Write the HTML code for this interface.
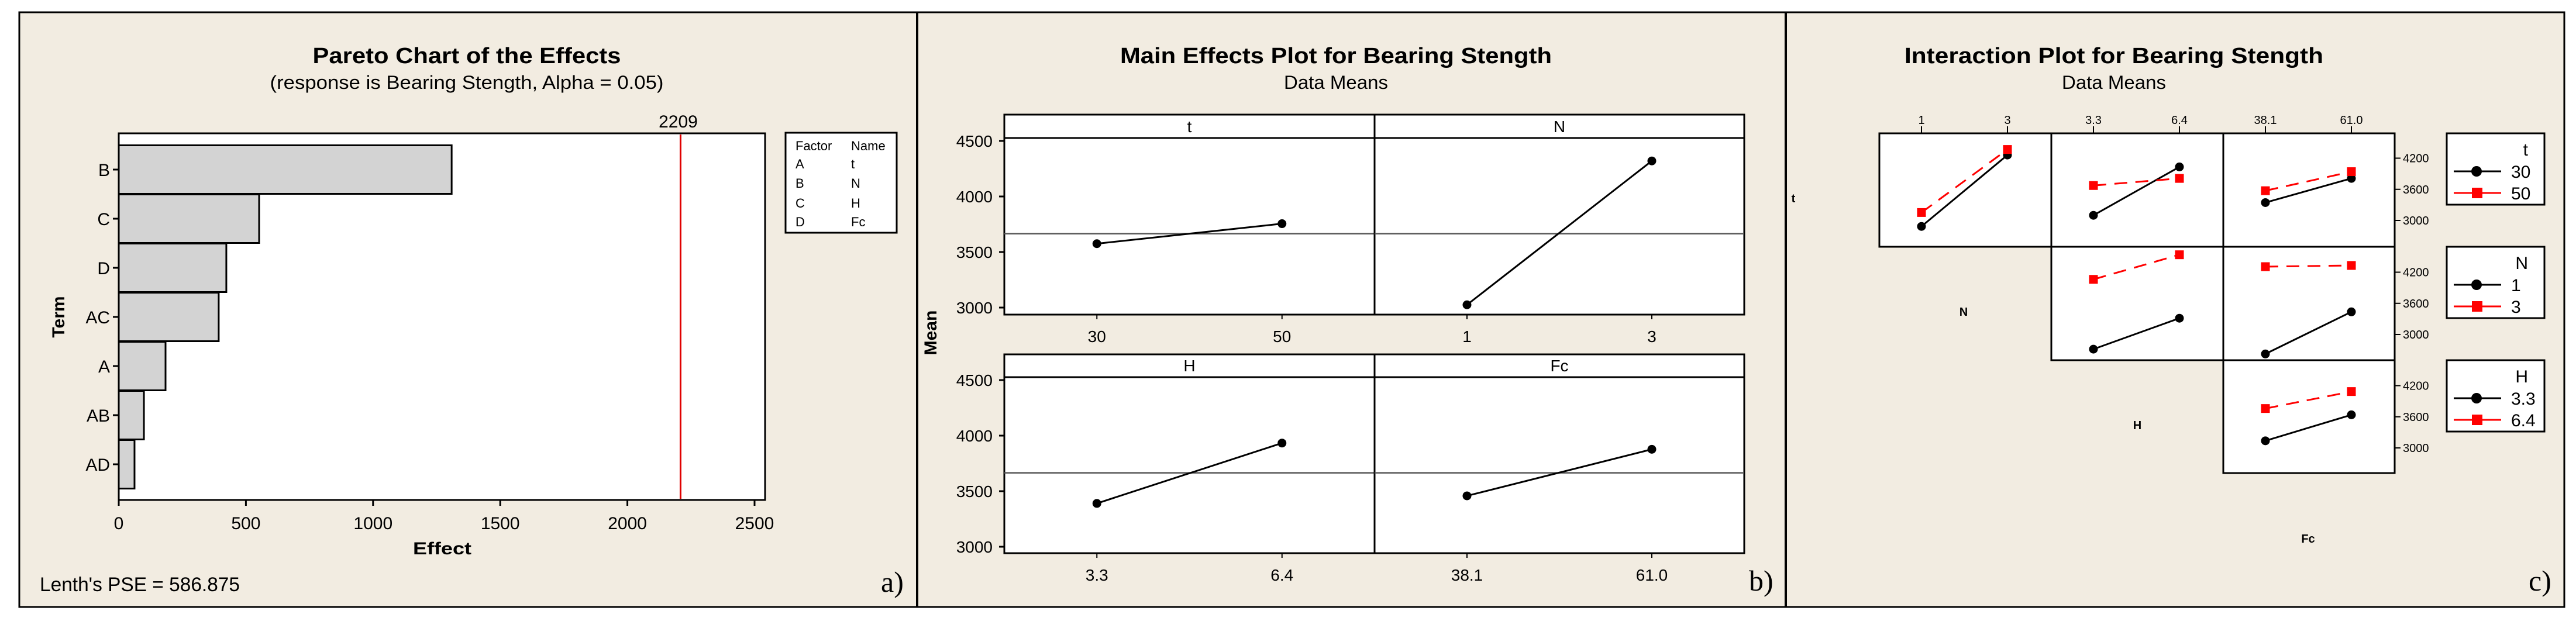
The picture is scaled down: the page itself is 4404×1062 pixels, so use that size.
<!DOCTYPE html>
<html><head><meta charset="utf-8"><style>
html,body{margin:0;padding:0;background:#fff;}
svg{display:block;}
text{font-family:"Liberation Sans Narrow","Liberation Sans",sans-serif;fill:#000;}
.b{font-weight:bold;}
.serif{font-family:"Liberation Serif",serif;}
</style></head><body>
<svg id="root" width="4404" height="1062" viewBox="0 0 4404 1062" xmlns="http://www.w3.org/2000/svg">
<rect x="0" y="0" width="4404" height="1062" fill="#fff"/>
<rect x="33" y="21" width="4351" height="1017" fill="#F2ECE1" stroke="#000" stroke-width="3"/>
<line x1="1568" y1="21" x2="1568" y2="1038" stroke="#000" stroke-width="4"/>
<line x1="3053" y1="21" x2="3053" y2="1038" stroke="#000" stroke-width="4"/>

<!-- Panel A -->
<g id="pa">
<text class="b" x="798" y="108" font-size="38" text-anchor="middle" textLength="527" lengthAdjust="spacingAndGlyphs">Pareto Chart of the Effects</text>
<text x="798" y="152" font-size="32" text-anchor="middle" textLength="673" lengthAdjust="spacingAndGlyphs">(response is Bearing Stength, Alpha = 0.05)</text>
<rect x="203" y="228" width="1105" height="627" fill="#fff" stroke="#000" stroke-width="3"/>
<g id="pa-bars"></g>
<g id="pa-ax"></g>
<text class="b" x="756" y="948" font-size="30" text-anchor="middle" textLength="100" lengthAdjust="spacingAndGlyphs">Effect</text>
<text class="b" x="0" y="0" font-size="30" text-anchor="middle" transform="translate(110,542) rotate(-90)">Term</text>
<g>
<rect x="1343" y="227" width="190" height="171" fill="#fff" stroke="#000" stroke-width="3"/>
<text x="1360" y="257" font-size="22">Factor</text><text x="1455" y="257" font-size="22">Name</text>
<text x="1360" y="288" font-size="22">A</text><text x="1455" y="288" font-size="22">t</text>
<text x="1360" y="321" font-size="22">B</text><text x="1455" y="321" font-size="22">N</text>
<text x="1360" y="355" font-size="22">C</text><text x="1455" y="355" font-size="22">H</text>
<text x="1360" y="387" font-size="22">D</text><text x="1455" y="387" font-size="22">Fc</text>
</g>
<text x="68" y="1011" font-size="34" textLength="342" lengthAdjust="spacingAndGlyphs">Lenth's PSE = 586.875</text>
<text class="serif" x="1506" y="1012" font-size="50">a)</text>
</g>

<!-- Panel B -->
<g id="pb">
<text class="b" x="2284" y="108" font-size="38" text-anchor="middle" textLength="738" lengthAdjust="spacingAndGlyphs">Main Effects Plot for Bearing Stength</text>
<text x="2284" y="152" font-size="32" text-anchor="middle" textLength="178" lengthAdjust="spacingAndGlyphs">Data Means</text>
<g id="pb-panels"></g>
<text class="b" x="0" y="0" font-size="30" text-anchor="middle" transform="translate(1601,569) rotate(-90)">Mean</text>
<text class="serif" x="2990" y="1010" font-size="50">b)</text>
</g>

<!-- Panel C -->
<g id="pc">
<text class="b" x="3614" y="108" font-size="38" text-anchor="middle" textLength="716" lengthAdjust="spacingAndGlyphs">Interaction Plot for Bearing Stength</text>
<text x="3614" y="152" font-size="32" text-anchor="middle" textLength="178" lengthAdjust="spacingAndGlyphs">Data Means</text>
<g id="pc-cells"></g>
<text class="b" x="3066" y="346" font-size="20" text-anchor="middle">t</text>
<text class="b" x="3357" y="540" font-size="20" text-anchor="middle">N</text>
<text class="b" x="3654" y="734" font-size="20" text-anchor="middle">H</text>
<text class="b" x="3946" y="928" font-size="20" text-anchor="middle">Fc</text>
<g id="pc-leg"></g>
<text class="serif" x="4323" y="1010" font-size="50">c)</text>
</g>
</svg>
<script>
// ---------- Pareto data ----------
const paretoTerms = ["B","C","D","AC","A","AB","AD"];
const paretoEffects = [1309, 552, 423, 393, 184, 99, 62];
const paretoTicks = [0, 500, 1000, 1500, 2000, 2500];
const paretoCritical = [2209];

// ---------- Main effects data ----------
const meFactors = ["t","N","H","Fc"];
const meLevelLabels = [["30","50"],["1","3"],["3.3","6.4"],["38.1","61.0"]];
const meMeans = [[3575,3755],[3025,4320],[3390,3933],[3458,3877]];
const meGrandMean = [3665];
const meTicks = [3000, 3500, 4000, 4500];

// ---------- Interaction data ----------
const ixColLabels = [["1","3"],["3.3","6.4"],["38.1","61.0"]];
const ixRowLevels = [["30","50"],["1","3"],["3.3","6.4"]];
const ixRowFactors = ["t","N","H"];
// cells: [row][col] -> [blackSeries, redSeries], null if empty
const ixT_N = [[2885,4261],[3153,4368]];
const ixT_H = [[3099,4032],[3673,3810]];
const ixT_Fc = [[3344,3810],[3573,3940]];
const ixN_H = [[2717,3313],[4062,4536]];
const ixN_Fc = [[2625,3436],[4307,4330]];
const ixH_Fc = [[3137,3638],[3759,4086]];
const ixTicks = [3000, 3600, 4200];

const NS = "http://www.w3.org/2000/svg";
function mk(tag, attrs, parent, txt){
  const e = document.createElementNS(NS, tag);
  for (const k in attrs) e.setAttribute(k, attrs[k]);
  if (txt !== undefined) e.textContent = txt;
  parent.appendChild(e);
  return e;
}

// ===== Pareto =====
(function(){
  const gB = document.getElementById("pa-bars"), gA = document.getElementById("pa-ax");
  const x = v => 203 + v * (1087 / 2500);
  const yc = i => 290 + i * 84;
  paretoEffects.forEach((v, i) => {
    const r = mk("rect", {x:203, y:yc(i)-41.5, width:x(v)-203, height:83, fill:"#D3D3D3", stroke:"#000", "stroke-width":3}, gB);
    
    
    mk("line", {x1:193, x2:203, y1:yc(i), y2:yc(i), stroke:"#000", "stroke-width":3}, gA);
    const t = mk("text", {x:188, y:yc(i)+11, "font-size":30, "text-anchor":"end"}, gA, paretoTerms[i]);
    
    
  });
  paretoTicks.forEach(v => {
    mk("line", {x1:x(v), x2:x(v), y1:855, y2:865, stroke:"#000", "stroke-width":3}, gA);
    const t = mk("text", {x:x(v), y:905, "font-size":30, "text-anchor":"middle"}, gA, String(v));
    
    
  });
  const c = paretoCritical[0];
  const l = mk("line", {x1:x(c), x2:x(c), y1:230, y2:853, stroke:"#E00000", "stroke-width":3}, gB);
  
  
  const t = mk("text", {x:x(c)-4, y:218, "font-size":30, "text-anchor":"middle"}, gA, String(c));
  
  
})();

// ===== Main effects =====
(function(){
  const g = document.getElementById("pb-panels");
  const cols = [[1717,2350],[2350,2982]];
  const rows = [{top:196, strip:236, bot:538, y4500:241, y3000:526, lab:585},
                {top:606, strip:645, bot:946, y4500:650, y3000:935, lab:993}];
  meFactors.forEach((f, k) => {
    const r = rows[Math.floor(k/2)], c = cols[k%2];
    const y = v => r.y3000 + (v - 3000) * (r.y4500 - r.y3000) / 1500;
    const w = c[1] - c[0];
    const xs = [c[0] + w*0.25, c[0] + w*0.75];
    const pg = mk("g", {}, g);
    
    
    mk("rect", {x:c[0], y:r.top, width:w, height:r.bot-r.top, fill:"#fff", stroke:"#000", "stroke-width":3}, pg);
    mk("line", {x1:c[0], x2:c[1], y1:r.strip, y2:r.strip, stroke:"#000", "stroke-width":3}, pg);
    mk("text", {x:(c[0]+c[1])/2, y:r.strip-10, "font-size":28, "text-anchor":"middle"}, pg, f);
    mk("line", {x1:c[0], x2:c[1], y1:y(meGrandMean[0]), y2:y(meGrandMean[0]), stroke:"#555", "stroke-width":2.5}, pg);
    const ln = mk("line", {x1:xs[0], y1:y(meMeans[k][0]), x2:xs[1], y2:y(meMeans[k][1]), stroke:"#000", "stroke-width":3}, pg);
    
    
    meMeans[k].forEach((v, j) => {
      const p = mk("circle", {cx:xs[j], cy:y(v), r:7.5, fill:"#000"}, pg);
      
      
      mk("line", {x1:xs[j], x2:xs[j], y1:r.bot, y2:r.bot+8, stroke:"#000", "stroke-width":2}, pg);
      const t = mk("text", {x:xs[j], y:r.lab, "font-size":28, "text-anchor":"middle"}, pg, meLevelLabels[k][j]);
      
      
    });
    if (k % 2 === 0) {
      meTicks.forEach(v => {
        mk("line", {x1:c[0]-9, x2:c[0], y1:y(v), y2:y(v), stroke:"#000", "stroke-width":3}, pg);
        const t = mk("text", {x:c[0]-20, y:y(v)+10, "font-size":28, "text-anchor":"end"}, pg, String(v));
        
        
      });
    }
  });
})();

// ===== Interaction =====
(function(){
  const g = document.getElementById("pc-cells");
  const colX = [3213, 3507, 3801, 4094];
  const rowY = [228, 422, 616, 809];
  const cells = [[ixT_N, ixT_H, ixT_Fc],[null, ixN_H, ixN_Fc],[null, null, ixH_Fc]];
  const y3000 = [377, 572, 766];
  const pxPerUnit = 106.5 / 1200;
  // top tick labels
  ixColLabels.forEach((labs, c) => {
    labs.forEach((lab, j) => {
      const xx = colX[c] + 72 + j * 147;
      mk("line", {x1:xx, x2:xx, y1:rowY[0]-12, y2:rowY[0], stroke:"#000", "stroke-width":2}, g);
      const t = mk("text", {x:xx, y:rowY[0]-16, "font-size":20, "text-anchor":"middle"}, g, lab);
      
      
    });
  });
  cells.forEach((row, r) => {
    row.forEach((cell, c) => {
      if (!cell) return;
      const cg = mk("g", {}, g);
      
      
      mk("rect", {x:colX[c], y:rowY[r], width:colX[c+1]-colX[c], height:rowY[r+1]-rowY[r], fill:"#fff", stroke:"#000", "stroke-width":3}, cg);
      const y = v => y3000[r] - (v - 3000) * pxPerUnit;
      const xs = [colX[c] + 72, colX[c] + 219];
      cell.forEach((ser, s) => {
        const red = s === 1;
        const ln = mk("line", {x1:xs[0], y1:y(ser[0]), x2:xs[1], y2:y(ser[1]), stroke:red?"#F00":"#000", "stroke-width":3, "stroke-dasharray":red?"22,14":"none"}, cg);
        
        
        ser.forEach((v, j) => {
          let m;
          if (red) m = mk("rect", {x:xs[j]-7.5, y:y(v)-7.5, width:15, height:15, fill:"#F00"}, cg);
          else m = mk("circle", {cx:xs[j], cy:y(v), r:7.5, fill:"#000"}, cg);
          
          
        });
      });
    });
    // right axis
    ixTicks.forEach(v => {
      const yy = y3000[r] - (v - 3000) * pxPerUnit;
      mk("line", {x1:4094, x2:4104, y1:yy, y2:yy, stroke:"#000", "stroke-width":2}, g);
      const t = mk("text", {x:4108, y:yy+7, "font-size":20}, g, String(v));
      
      
    });
  });
  // legends
  const lg = document.getElementById("pc-leg");
  ixRowFactors.forEach((f, r) => {
    const top = rowY[r];
    const gg = mk("g", {}, lg);
    
    
    mk("rect", {x:4183, y:top, width:167, height:122, fill:"#fff", stroke:"#000", "stroke-width":3}, gg);
    mk("text", {x:4322, y:top+38, "font-size":30, "text-anchor":"end"}, gg, f);
    ixRowLevels[r].forEach((lv, j) => {
      const yy = top + 65 + j * 37;
      const red = j === 1;
      mk("line", {x1:4195, x2:4276, y1:yy, y2:yy, stroke:red?"#F00":"#000", "stroke-width":3}, gg);
      if (red) mk("rect", {x:4226, y:yy-9, width:18, height:18, fill:"#F00"}, gg);
      else mk("circle", {cx:4234, cy:yy, r:9, fill:"#000"}, gg);
      const t = mk("text", {x:4293, y:yy+11, "font-size":30}, gg, lv);
      
      
    });
  });
})();
</script>
</body></html>
